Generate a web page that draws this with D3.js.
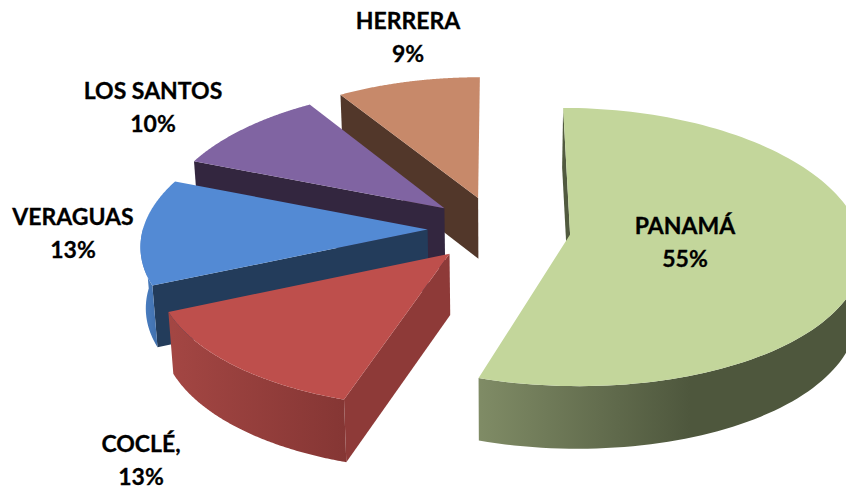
<!doctype HTML>
<html>
  <head>
    <meta charset="utf-8">
    <title>Pie 3D</title>
    <style>
      html, body { margin: 0; background: #fff; overflow: hidden; }
      svg { display: block; }
      text { font-family: Lato, "Open Sans", sans-serif; font-weight: 700; font-size: 23px; fill: #000; stroke: #000; stroke-width: 0.3px; text-anchor: middle; }
    </style>
    <script src="https://cdnjs.cloudflare.com/ajax/libs/d3/7.8.5/d3.min.js"></script>
  </head>
  <body>

  <svg width="846" height="491"></svg>

  <script>

  var names = ['PANAMÁ', 'COCLÉ,', 'VERAGUAS', 'LOS SANTOS', 'HERRERA'];
  // labels are rounded, the two 13% slices are not quite the same size in the picture
  var values = [55, 13.45, 12.55, 10, 9];

  // layout, one entry per slice
  var explode = [0.255, 0.24, 0.24, 0.24, 0.24];
  var radius = [1, 0.99, 0.985, 0.99, 1];
  var topColors = ['#c3d69b', '#be4f4c', '#538ad4', '#8064a2', '#c7896a'];
  var faceColors = ['#515a3f', '#8e3a38', '#233c5b', '#33263f', '#52372a'];
  var rimFrom = ['#808c66', '#a34643', '#4a7fc4', '#33263f', '#52372a'];
  var rimTo = ['#4e573d', '#853634', '#3f6ca6', '#33263f', '#52372a'];
  var rimX1 = [477, 172, 142, 194, 339];
  var rimX2 = [690, 347, 162, 306, 480];
  var labelX = [685, 141, 73, 153, 408];
  var labelY = [234, 452, 225, 99, 29];

  var $svg = d3.select('svg');
  var defs = $svg.append('defs');

  var x0 = 497, y0 = 229;
  var perspX = 0.105;
  var perspY = 0.09;
  var depth = 61;

  var xScale = d3.scaleLinear().domain([-1, 1]).range([x0 - 289, x0 + 289]);
  var yScale = d3.scaleLinear().domain([-1, 1]).range([y0 + 137, y0 - 137]);

  // ground plane point -> screen, bottom layer sits lower and a bit narrower
  function project(X, Y, bottom) {
    var sx = xScale(X / (1 + perspX * Y));
    var sy = yScale(Y / (1 + perspY * Y));
    if (bottom) {
      sx = x0 + (sx - x0) * 0.985;
      sy = sy + depth - 1.5 * Y;
    }
    return [sx, sy];
  }

  var line = d3.line();

  var arcs = d3.pie().sort(null).startAngle(0).endAngle(2 * Math.PI)(values);

  // back slices first, the rest paint over them
  var drawOrder = [4, 3, 2, 1, 0];

  drawOrder.forEach(function(i) {
    var a = arcs[i];
    var mid = (a.startAngle + a.endAngle) / 2;
    var ox = explode[i] * Math.sin(mid);
    var oy = explode[i] * Math.cos(mid);

    var thetas = d3.range(0, 121).map(function(k) {
      return a.startAngle + (a.endAngle - a.startAngle) * k / 120;
    });
    function rim(t, bottom) {
      return project(ox + radius[i] * Math.sin(t), oy + radius[i] * Math.cos(t), bottom);
    }
    var rimTop = thetas.map(function(t) { return rim(t, false); });
    var apexTop = project(ox, oy, false);
    var apexBottom = project(ox, oy, true);

    var gradId = 'rim' + i;
    var grad = defs.append('linearGradient')
      .attr('id', gradId)
      .attr('gradientUnits', 'userSpaceOnUse')
      .attr('x1', rimX1[i]).attr('x2', rimX2[i])
      .attr('y1', 0).attr('y2', 0);
    grad.append('stop').attr('offset', 0).attr('stop-color', rimFrom[i]);
    grad.append('stop').attr('offset', 1).attr('stop-color', rimTo[i]);

    // cut face on the start side, the end side of every slice here looks away
    if (Math.sin(a.startAngle) <= 0.001) {
      $svg.append('path')
        .attr('d', line([rim(a.startAngle, false), apexTop, apexBottom, rim(a.startAngle, true)]) + 'Z')
        .attr('fill', faceColors[i]);
    }

    // outer wall, only the part turned to the viewer
    var front = thetas.filter(function(t) { return Math.cos(t) <= 0.02; });
    if (front.length > 1) {
      var wallTop = front.map(function(t) { return rim(t, false); });
      var wallBottom = front.map(function(t) { return rim(t, true); }).reverse();
      $svg.append('path')
        .attr('d', line(wallTop.concat(wallBottom)) + 'Z')
        .attr('fill', 'url(#' + gradId + ')');
    }

    // top
    $svg.append('path')
      .attr('d', line([apexTop].concat(rimTop)) + 'Z')
      .attr('fill', topColors[i]);
  });

  names.forEach(function(name, i) {
    var $text = $svg.append('text');
    $text.append('tspan').attr('x', labelX[i]).attr('y', labelY[i]).text(name);
    $text.append('tspan').attr('x', labelX[i]).attr('y', labelY[i] + 33).text(Math.round(values[i]) + '%');
  });

  </script>

  </body>
</html>
